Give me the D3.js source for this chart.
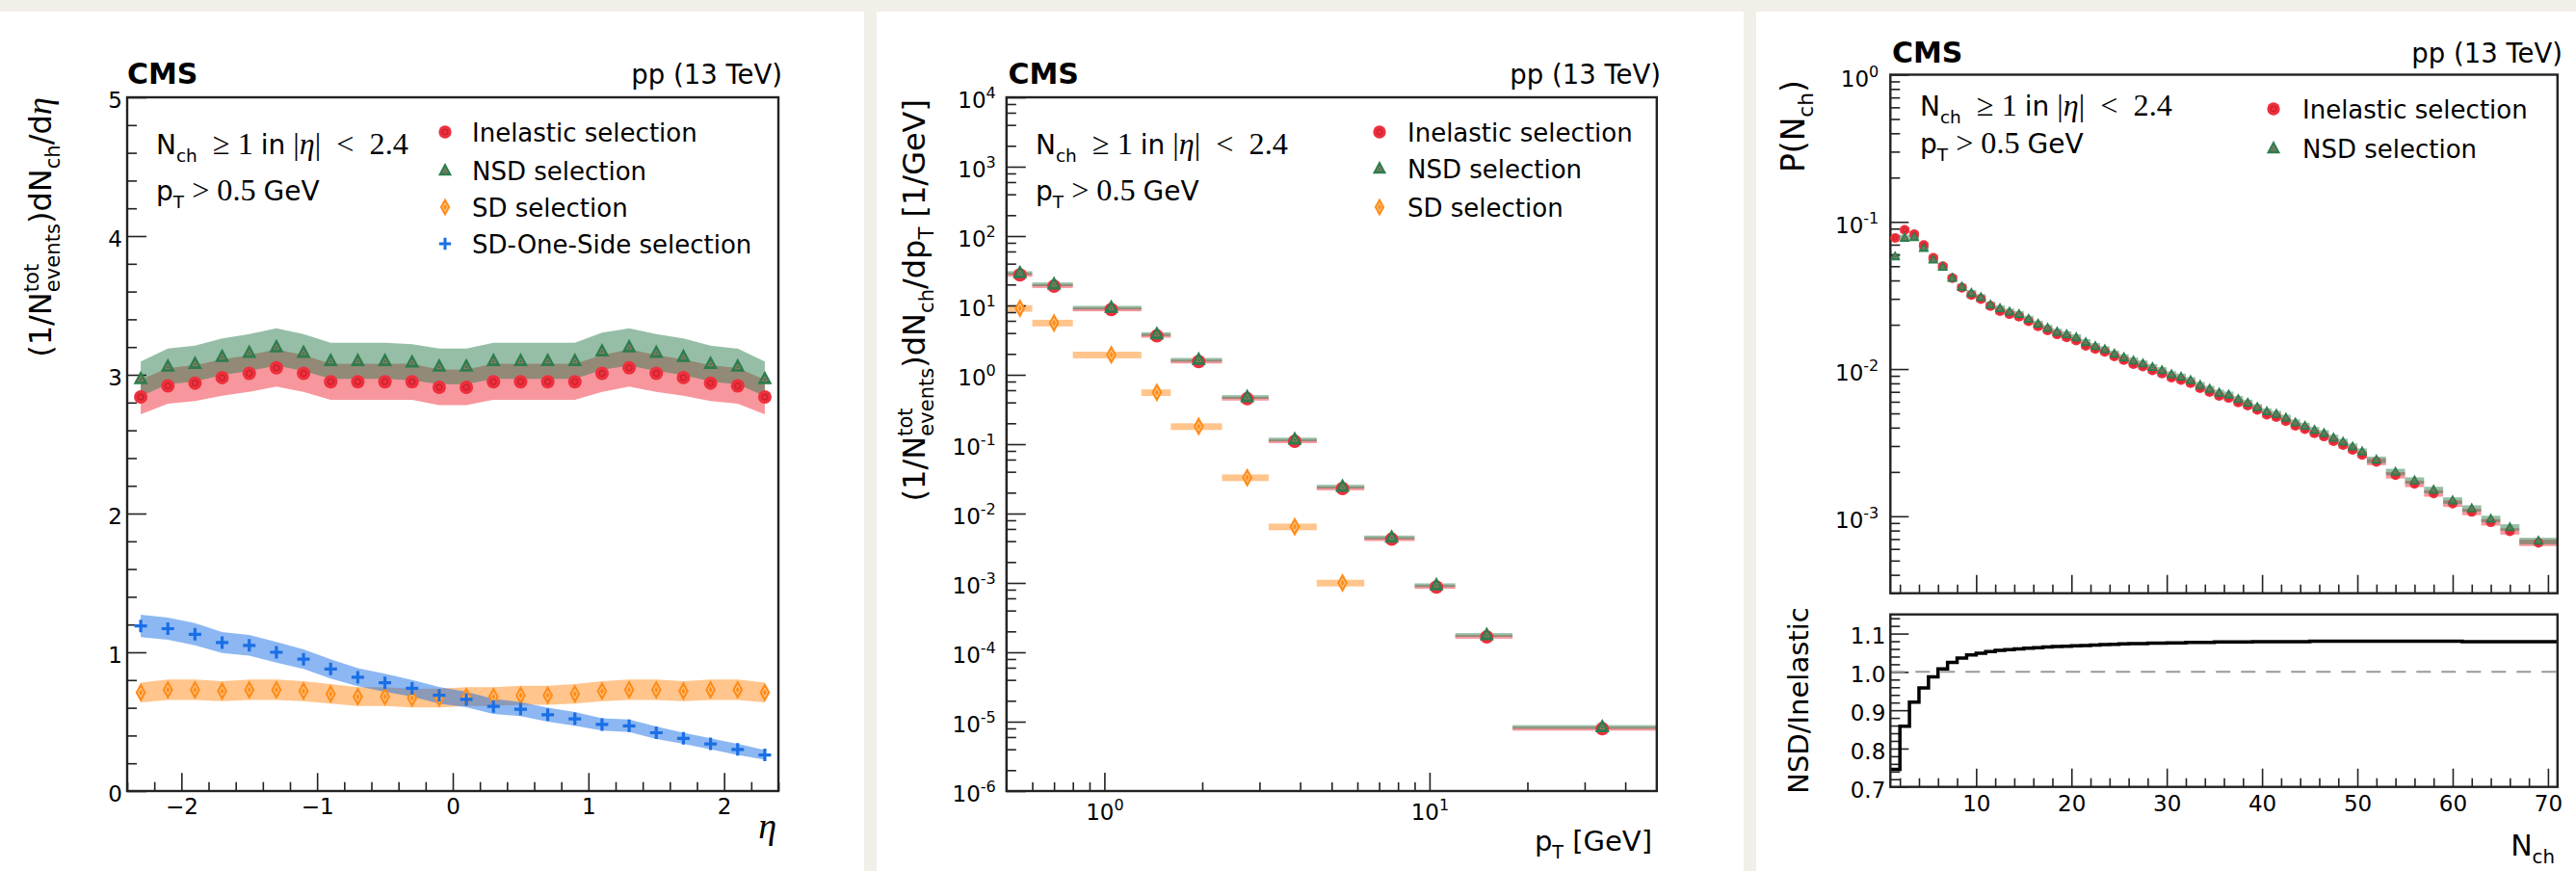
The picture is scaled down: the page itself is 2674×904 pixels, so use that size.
<!DOCTYPE html>
<html>
<head>
<meta charset="utf-8">
<script src="https://cdn.jsdelivr.net/npm/d3@7"></script>
<style>
    body { margin: 0; background: #f2efe9; }
    svg { display: block; }
</style>
</head>
<body>
<div id="chart"></div>
<script>
// ---- left: pseudorapidity density ----
const etaCenters = [-2.3, -2.1, -1.9, -1.7, -1.5, -1.3, -1.1, -0.9, -0.7, -0.5, -0.3, -0.1,
                    0.1, 0.3, 0.5, 0.7, 0.9, 1.1, 1.3, 1.5, 1.7, 1.9, 2.1, 2.3];
const inelasticEta = [2.84, 2.92, 2.94, 2.98, 3.01, 3.05, 3.01, 2.95, 2.95, 2.95, 2.95, 2.91,
                      2.91, 2.95, 2.95, 2.95, 2.95, 3.01, 3.05, 3.01, 2.98, 2.94, 2.92, 2.84];
const nsdEta = [2.97, 3.06, 3.08, 3.13, 3.16, 3.20, 3.16, 3.10, 3.10, 3.10, 3.09, 3.06,
                3.06, 3.10, 3.10, 3.10, 3.10, 3.17, 3.20, 3.16, 3.13, 3.08, 3.06, 2.97];
const sdEta = [0.71, 0.73, 0.73, 0.72, 0.73, 0.73, 0.72, 0.70, 0.68, 0.68, 0.67, 0.67,
               0.68, 0.68, 0.69, 0.69, 0.70, 0.72, 0.73, 0.73, 0.72, 0.73, 0.73, 0.71];
const sdOneSideEta = [1.19, 1.17, 1.13, 1.07, 1.05, 1.00, 0.95, 0.88, 0.82, 0.78, 0.74, 0.69,
                      0.66, 0.61, 0.59, 0.55, 0.52, 0.48, 0.47, 0.42, 0.38, 0.34, 0.30, 0.26];
const sdOneSideEtaErr = [0.08, 0.08, 0.08, 0.075, 0.075, 0.075, 0.07, 0.07, 0.065, 0.065, 0.06, 0.06,
                         0.055, 0.055, 0.05, 0.05, 0.05, 0.045, 0.045, 0.045, 0.04, 0.04, 0.04, 0.035];
const inelasticEtaRelErr = 0.044;
const nsdEtaRelErr = 0.042;
const sdEtaRelErr = 0.10;

// ---- middle: pT spectrum ----
const ptLow = [0.5, 0.6, 0.8, 1.3, 1.6, 2.3, 3.2, 4.5, 6.3, 9.0, 12, 18];
const ptHigh = [0.6, 0.8, 1.3, 1.6, 2.3, 3.2, 4.5, 6.3, 9.0, 12, 18, 50];
const ptCenters = [0.55, 0.7, 1.05, 1.45, 1.95, 2.75, 3.85, 5.4, 7.65, 10.5, 15, 34];
const inelasticPt = [27.6, 19.0, 8.75, 3.64, 1.55, 0.452, 0.110, 0.0230, 0.00427, 0.000875, 0.000167, 7.9e-6];
const nsdPt = [29.4, 20.2, 9.3, 3.87, 1.65, 0.48, 0.117, 0.0245, 0.00454, 0.00093, 0.000178, 8.4e-6];
const sdPt = [9.1, 5.6, 1.94, 0.556, 0.18, 0.033, 0.00646, 0.001];
const ptRelErr = 0.06;
const sdPtRelErr = 0.11;

// ---- right: multiplicity distribution ----
const nchEdges = [1, 2, 3, 4, 5, 6, 7, 8, 9, 10, 11, 12, 13, 14, 15, 16, 17, 18, 19, 20,
                  21, 22, 23, 24, 25, 26, 27, 28, 29, 30, 31, 32, 33, 34, 35, 36, 37, 38, 39, 40,
                  41, 42, 43, 44, 45, 46, 47, 48, 49, 50, 51, 53, 55, 57, 59, 61, 63, 65, 67, 71];
const inelasticNch = [0.0778, 0.0882, 0.0826, 0.0697, 0.0570, 0.0500, 0.0415, 0.0357, 0.0318, 0.0299,
                      0.0268, 0.0247, 0.0236, 0.0227, 0.0211, 0.0195, 0.0183, 0.0172, 0.0164, 0.0156,
                      0.0144, 0.0137, 0.0131, 0.0122, 0.0115, 0.0108, 0.0104, 0.0098, 0.00933, 0.00873,
                      0.00843, 0.00802, 0.00740, 0.00697, 0.00656, 0.00636, 0.00593, 0.00564, 0.00528, 0.00490,
                      0.00471, 0.00443, 0.00411, 0.00391, 0.00366, 0.00348, 0.00323, 0.00304, 0.00282, 0.00261,
                      0.00234, 0.00190, 0.00166, 0.00143, 0.00122, 0.00107, 0.00091, 0.00079, 0.00066];
const nsdNch = [0.0581, 0.0778, 0.0786, 0.0663, 0.0553, 0.0494, 0.0415, 0.0362, 0.0328, 0.0307,
                0.0273, 0.0258, 0.0245, 0.0236, 0.0219, 0.0203, 0.0190, 0.0179, 0.0172, 0.0164,
                0.0152, 0.0143, 0.0136, 0.0127, 0.0120, 0.0114, 0.0109, 0.0103, 0.0098, 0.00919,
                0.00887, 0.00839, 0.00778, 0.00732, 0.00690, 0.00669, 0.00624, 0.00590, 0.00551, 0.00515,
                0.00495, 0.00466, 0.00433, 0.00411, 0.00385, 0.00366, 0.00341, 0.00320, 0.00297, 0.00275,
                0.00242, 0.00200, 0.00175, 0.00151, 0.00128, 0.00113, 0.00096, 0.00084, 0.00068];
const nsdOverInelastic = [0.746, 0.858, 0.921, 0.958, 0.987, 1.008, 1.025, 1.036, 1.044, 1.049,
                          1.053, 1.056, 1.058, 1.060, 1.062, 1.063, 1.065, 1.066, 1.067, 1.068,
                          1.069, 1.070, 1.071, 1.072, 1.073, 1.074, 1.074, 1.075, 1.075, 1.076,
                          1.076, 1.077, 1.077, 1.077, 1.078, 1.078, 1.078, 1.078, 1.079, 1.079,
                          1.079, 1.079, 1.079, 1.079, 1.080, 1.080, 1.080, 1.080, 1.080, 1.080,
                          1.080, 1.080, 1.080, 1.080, 1.080, 1.079, 1.079, 1.079, 1.079];
const nchRelErr = 0.05;

// ---- ticks and labels ----
const etaTicks = [-2, -1, 0, 1, 2];
const dndetaTicks = [0, 1, 2, 3, 4, 5];
const ptTicks = [1, 10];
const dndptTicks = [1e-6, 1e-5, 1e-4, 1e-3, 1e-2, 1e-1, 1, 10, 100, 1000, 10000];
const nchTicks = [10, 20, 30, 40, 50, 60, 70];
const pnchTicks = [1e-3, 1e-2, 1e-1, 1];
const ratioTicks = [0.7, 0.8, 0.9, 1.0, 1.1];

const legendLeft = ["Inelastic selection", "NSD selection", "SD selection", "SD-One-Side selection"];
const legendMiddle = ["Inelastic selection", "NSD selection", "SD selection"];
const legendRight = ["Inelastic selection", "NSD selection"];
const markerTypes = ["circle", "triangle", "diamond", "plus"];

const colors = { red: "#ef2f3c", green: "#2e7d4f", orange: "#ff8c1a", blue: "#1a6fe6" };
const sans = '"DejaVu Sans", sans-serif';
const serif = '"Liberation Serif", "DejaVu Serif", serif';

const svg = d3.select("#chart").append("svg")
    .attr("width", 2674).attr("height", 904)
    .attr("font-family", sans);

// paper background and the three white sheets
svg.append("rect").attr("width", 2674).attr("height", 904).attr("fill", "#f2efe9");
[[0, 897], [910, 1810], [1823, 2674]].forEach(function(s) {
    svg.append("rect").attr("x", s[0]).attr("y", 12)
        .attr("width", s[1] - s[0]).attr("height", 892).attr("fill", "#ffffff");
});

function richText(parent, x, y, size, parts, anchor) {
    let text = parent.append("text")
        .attr("x", x).attr("y", y)
        .attr("font-size", size)
        .attr("text-anchor", anchor || "start")
        .attr("fill", "#000")
        .style("white-space", "pre");
    let shift = 0, prevLen = 0;
    parts.forEach(function(p) {
        let mode = p[1] || "";
        let target = 0;
        let ts = text.append("tspan").text(p[0]);
        if (mode.indexOf("sub") >= 0) { target = 0.28 * size; ts.attr("font-size", size * 0.66); }
        if (mode.indexOf("sup") >= 0) { target = -0.4 * size; ts.attr("font-size", size * 0.66); }
        if (mode.indexOf("serif") >= 0) ts.attr("font-family", serif).attr("font-size", size * 1.15);
        if (mode.indexOf("it") >= 0) ts.attr("font-style", "italic");
        ts.attr("dy", target - shift);
        if (mode.indexOf("back") >= 0) ts.attr("dx", -prevLen);
        shift = target;
        prevLen = ts.node().getComputedTextLength();
    });
    return text;
}

function addAxis(g, orient, scale, values, size, pad, fmt, tx, ty) {
    let axis = (orient === "left" ? d3.axisLeft(scale) : d3.axisBottom(scale))
        .tickValues(values)
        .tickSize(-size)
        .tickPadding(pad)
        .tickFormat(fmt || "");
    let a = g.append("g")
        .attr("transform", `translate(${tx},${ty})`)
        .call(axis);
    a.select(".domain").remove();
    a.attr("font-family", null).attr("font-size", null);
    a.selectAll(".tick line").attr("stroke", "#222").attr("stroke-width", 1.6);
    a.selectAll(".tick text").attr("font-size", 23).attr("fill", "#000");
    if (orient === "left") a.selectAll(".tick text").attr("dy", "0.45em");
    return a;
}

function powerLabels(a) {
    a.selectAll(".tick text").each(function(d) {
        let t = d3.select(this).text("");
        t.append("tspan").text("10");
        t.append("tspan").text(Math.round(Math.log10(d)))
            .attr("font-size", 16).attr("dy", -10);
    });
}

function logMinors(lo, hi, mult) {
    let out = [];
    for (let e = lo; e < hi; e++) {
        mult.forEach(function(m) { out.push(m * Math.pow(10, e)); });
    }
    return out;
}

function drawMarker(g, type, cx, cy, k) {
    let m = g.append("g").attr("transform", `translate(${cx},${cy}) scale(${k})`);
    if (type === "circle") {
        m.append("circle").attr("r", 7).attr("fill", colors.red);
        m.append("circle").attr("r", 3).attr("fill", "none").attr("stroke", "#b81d2a").attr("stroke-width", 1);
    } else if (type === "triangle") {
        m.append("path").attr("d", "M0,-8.5L7.5,5.5L-7.5,5.5Z").attr("fill", colors.green);
        m.append("path").attr("d", "M0,-2.5L2.5,2L-2.5,2Z").attr("fill", "none")
            .attr("stroke", "#c0786a").attr("stroke-width", 0.8);
    } else if (type === "diamond") {
        m.append("path").attr("d", "M0,-10L5.5,0L0,10L-5.5,0Z").attr("fill", colors.orange);
        m.append("path").attr("d", "M0,-4.5L2.5,0L0,4.5L-2.5,0Z").attr("fill", "none")
            .attr("stroke", "#ffd9a8").attr("stroke-width", 0.9);
    } else {
        m.append("path").attr("d", "M-6.5,0H6.5M0,-6.5V6.5")
            .attr("stroke", colors.blue).attr("stroke-width", 3.2);
    }
}

function frame(g, x0, y0, x1, y1) {
    g.append("rect").attr("x", x0).attr("y", y0)
        .attr("width", x1 - x0).attr("height", y1 - y0)
        .attr("fill", "none").attr("stroke", "#222").attr("stroke-width", 2.4);
}

function header(g, xl, xr, yb) {
    g.append("text").attr("x", xl).attr("y", yb).attr("font-size", 30)
        .attr("font-weight", "bold").text("CMS");
    g.append("text").attr("x", xr).attr("y", yb).attr("font-size", 27.5)
        .attr("text-anchor", "end").text("pp (13 TeV)");
}

function cuts(g, x, y1, y2) {
    richText(g, x, y1, 28, [["N"], ["ch", "sub"], ["  \u2265 1 ", "serif"], ["in"],
        [" |", "serif"], ["\u03b7", "serif it"], ["|  <  2.4", "serif"]]);
    richText(g, x, y2, 28, [["p"], ["T", "sub"], [" > 0.5 ", "serif"], ["GeV"]]);
}

function legend(g, names, x, rows, tx) {
    names.forEach(function(name, i) {
        drawMarker(g, markerTypes[i], x, rows[i], 0.95);
        g.append("text").attr("x", tx).attr("y", rows[i] + 9.5)
            .attr("font-size", 26).text(name);
    });
}

// left panel code
function drawEtaPanel() {
    let g = svg.append("g");
    let x = d3.scaleLinear().domain([-2.4, 2.4]).range([132, 808]);
    let y = d3.scaleLinear().domain([0, 5]).range([821, 101]);

    function band(values, errFn, color) {
        let area = d3.area()
            .x(function(d, i) { return x(etaCenters[i]); })
            .y0(function(d, i) { return y(d - errFn(d, i)); })
            .y1(function(d, i) { return y(d + errFn(d, i)); });
        g.append("path").datum(values).attr("d", area)
            .attr("fill", color).attr("fill-opacity", 0.5);
    }
    band(inelasticEta, function(d) { return d * inelasticEtaRelErr; }, colors.red);
    band(nsdEta, function(d) { return d * nsdEtaRelErr; }, colors.green);
    band(sdEta, function(d) { return d * sdEtaRelErr; }, colors.orange);
    band(sdOneSideEta, function(d, i) { return sdOneSideEtaErr[i]; }, colors.blue);

    let minorY = d3.range(0, 5.001, 0.2).filter(function(v) { return Math.abs(v - Math.round(v)) > 0.01; });
    let minorX = d3.range(-2.4, 2.401, 0.2).filter(function(v) { return Math.abs(v - Math.round(v)) > 0.01; });
    addAxis(g, "left", y, dndetaTicks, 20, 5, d3.format("d"), 132, 0);
    addAxis(g, "left", y, minorY, 10, 5, null, 132, 0);
    addAxis(g, "bottom", x, etaTicks, 18.7, 8, d3.format("d"), 0, 821);
    addAxis(g, "bottom", x, minorX, 9.3, 8, null, 0, 821);
    frame(g, 132, 101, 808, 821);

    let series = [inelasticEta, nsdEta, sdEta, sdOneSideEta];
    series.forEach(function(values, s) {
        values.forEach(function(v, i) {
            drawMarker(g, markerTypes[s], x(etaCenters[i]), y(v), 1);
        });
    });

    header(g, 132, 812, 87);
    cuts(g, 162, 160, 208);
    legend(g, legendLeft, 462, [137, 177, 215, 253], 490);

    let yl = g.append("g").attr("transform", "translate(53,101) rotate(-90)");
    richText(yl, 0, 0, 32, [["(1/N"], ["tot", "sup"], ["events", "sub back"], [")dN"], ["ch", "sub"],
        ["/d"], ["\u03b7", "serif it"]], "end");
    g.append("text").attr("x", 806).attr("y", 870).attr("font-size", 38)
        .attr("font-family", serif).attr("font-style", "italic")
        .attr("text-anchor", "end").text("\u03b7");
}

// middle panel code
function drawPtPanel() {
    let g = svg.append("g");
    let x = d3.scaleLog().domain([0.5, 50]).range([1044.8, 1719.8]);
    let y = d3.scaleLog().domain([1e-6, 1e4]).range([821, 101]);

    function bars(values, rel, color) {
        values.forEach(function(v, i) {
            g.append("rect")
                .attr("x", x(ptLow[i])).attr("width", x(ptHigh[i]) - x(ptLow[i]))
                .attr("y", y(v * (1 + rel))).attr("height", y(v * (1 - rel)) - y(v * (1 + rel)))
                .attr("fill", color).attr("fill-opacity", 0.5);
        });
    }
    bars(inelasticPt, ptRelErr, colors.red);
    bars(nsdPt, ptRelErr, colors.green);
    bars(sdPt, sdPtRelErr, colors.orange);

    let minorX = [0.6, 0.7, 0.8, 0.9, 2, 3, 4, 5, 6, 7, 8, 9, 20, 30, 40];
    let minorY = logMinors(-6, 4, [2, 4, 6, 8]);
    let ya = addAxis(g, "left", y, dndptTicks, 20, 11, d3.format("d"), 1044.8, 0);
    powerLabels(ya);
    addAxis(g, "left", y, minorY, 10, 11, null, 1044.8, 0);
    let xa = addAxis(g, "bottom", x, ptTicks, 19, 14, d3.format("d"), 0, 821);
    powerLabels(xa);
    addAxis(g, "bottom", x, minorX, 9, 14, null, 0, 821);
    frame(g, 1044.8, 101, 1719.8, 821);

    [inelasticPt, nsdPt, sdPt].forEach(function(values, s) {
        values.forEach(function(v, i) {
            drawMarker(g, markerTypes[s], x(ptCenters[i]), y(v), 1);
        });
    });

    header(g, 1046.5, 1724, 87);
    cuts(g, 1075, 160, 208);
    legend(g, legendMiddle, 1432, [137, 175, 215], 1461);

    let yl = g.append("g").attr("transform", "translate(960,103) rotate(-90)");
    richText(yl, 0, 0, 32, [["(1/N"], ["tot", "sup"], ["events", "sub back"], [")dN"], ["ch", "sub"],
        ["/dp"], ["T", "sub"], [" [1/GeV]"]], "end");
    richText(g, 1715, 883, 29, [["p"], ["T", "sub"], [" [GeV]"]], "end");
}

// right panel code
function drawNchPanel() {
    let g = svg.append("g");
    let x = d3.scaleLinear().domain([1, 71]).range([1962.3, 2654.8]);
    let y = d3.scaleLog().domain([3e-4, 1]).range([615.7, 77.5]);
    let yr = d3.scaleLinear().domain([0.7, 1.15]).range([816.7, 637.7]);
    let centers = inelasticNch.map(function(d, i) { return (nchEdges[i] + nchEdges[i + 1]) / 2; });

    function boxes(values, color) {
        values.forEach(function(v, i) {
            g.append("rect")
                .attr("x", x(nchEdges[i])).attr("width", x(nchEdges[i + 1]) - x(nchEdges[i]))
                .attr("y", y(v * (1 + nchRelErr))).attr("height", y(v * (1 - nchRelErr)) - y(v * (1 + nchRelErr)))
                .attr("fill", color).attr("fill-opacity", 0.5);
        });
    }
    boxes(inelasticNch, colors.red);
    boxes(nsdNch, colors.green);

    let minorX = d3.range(2, 71, 2).filter(function(v) { return v % 10 !== 0; });
    let ya = addAxis(g, "left", y, pnchTicks, 19, 12, d3.format("d"), 1962.3, 0);
    powerLabels(ya);
    ya.selectAll(".tick text").attr("dy", "0.5em");
    addAxis(g, "left", y, logMinors(-4, 0, [2, 3, 4, 5, 6, 7, 8, 9]).filter(function(v) { return v >= 3e-4; }),
        10, 12, null, 1962.3, 0);
    addAxis(g, "bottom", x, nchTicks, 19, 9, null, 0, 615.7);
    addAxis(g, "bottom", x, minorX, 9, 9, null, 0, 615.7);
    frame(g, 1962.3, 77.5, 2654.8, 615.7);

    [inelasticNch, nsdNch].forEach(function(values, s) {
        values.forEach(function(v, i) {
            drawMarker(g, markerTypes[s], x(centers[i]), y(v), 0.72);
        });
    });

    header(g, 1964, 2660, 65);
    cuts(g, 1993, 120, 159);
    legend(g, legendRight, 2360, [113, 154], 2390);

    let yl = g.append("g").attr("transform", "translate(1873,83) rotate(-90)");
    richText(yl, 0, 0, 33, [["P(N"], ["ch", "sub"], [")"]], "end");

    // ratio pad
    let minorR = d3.range(0.7, 1.151, 0.02).filter(function(v) { return Math.abs(v * 10 - Math.round(v * 10)) > 0.01; });
    addAxis(g, "left", yr, ratioTicks, 19, 5, d3.format(".1f"), 1962.3, 0);
    addAxis(g, "left", yr, minorR, 10, 5, null, 1962.3, 0);
    addAxis(g, "bottom", x, nchTicks, 19, 9, d3.format("d"), 0, 816.7);
    addAxis(g, "bottom", x, minorX, 9, 9, null, 0, 816.7);

    g.append("line")
        .attr("x1", x(1)).attr("x2", x(71))
        .attr("y1", yr(1.0)).attr("y2", yr(1.0))
        .attr("stroke", "#999").attr("stroke-width", 2).attr("stroke-dasharray", "15,11");

    let steps = nsdOverInelastic.map(function(r, i) { return [nchEdges[i], r]; });
    steps.push([nchEdges[nchEdges.length - 1], nsdOverInelastic[nsdOverInelastic.length - 1]]);
    let stepLine = d3.line()
        .x(function(d) { return x(d[0]); })
        .y(function(d) { return yr(d[1]); })
        .curve(d3.curveStepAfter);
    g.append("path").datum(steps).attr("d", stepLine)
        .attr("fill", "none").attr("stroke", "#000").attr("stroke-width", 3.5);
    frame(g, 1962.3, 637.7, 2654.8, 816.7);

    g.append("text").attr("transform", "translate(1877,727) rotate(-90)")
        .attr("text-anchor", "middle").attr("font-size", 29).text("NSD/Inelastic");
    richText(g, 2652, 888, 30, [["N"], ["ch", "sub"]], "end");
}

drawEtaPanel();
drawPtPanel();
drawNchPanel();
</script>
</body>
</html>
